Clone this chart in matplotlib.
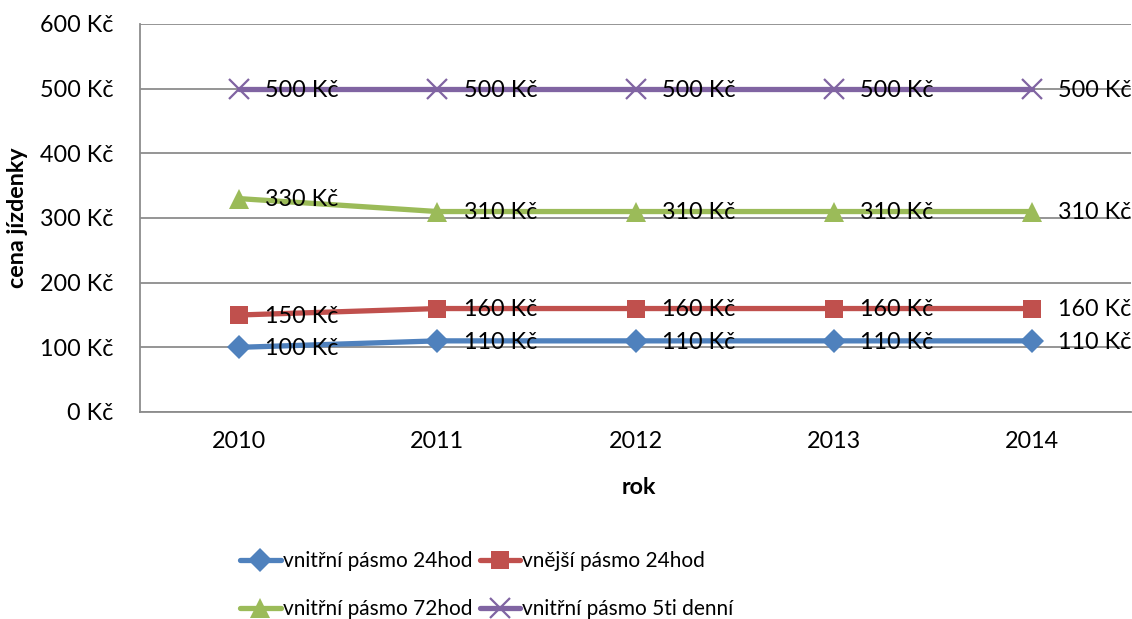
import matplotlib
matplotlib.use("Agg")
import matplotlib.pyplot as plt
from matplotlib.ticker import FuncFormatter

plt.rcParams['font.family'] = ['Lato', 'DejaVu Sans']

years = ['2010', '2011', '2012', '2013', '2014']
series_names = ['vnitřní pásmo 24hod', 'vnější pásmo 24hod',
                'vnitřní pásmo 72hod', 'vnitřní pásmo 5ti denní']
inner_24h = [100, 110, 110, 110, 110]
outer_24h = [150, 160, 160, 160, 160]
inner_72h = [330, 310, 310, 310, 310]
inner_5day = [500, 500, 500, 500, 500]
y_ticks = [0, 100, 200, 300, 400, 500, 600]

series = [inner_24h, outer_24h, inner_72h, inner_5day]
colors = ['#4F81BD', '#C0504D', '#9BBB59', '#8064A2']
markers = ['D', 's', '^', 'x']
msizes = [12, 13, 14, 14]

FS = 16.8
FS_LEG = 15
fig = plt.figure(figsize=(11.32, 6.19), dpi=100)
ax = fig.add_axes([140/1132, 1 - 412/619, (1131-140)/1132, (412-24)/619])

x = list(range(len(years)))
handles = []
for vals, c, m, ms, name in zip(series, colors, markers, msizes, series_names):
    kw = dict(markeredgewidth=1.6) if m == 'x' else dict(markeredgewidth=0)
    h, = ax.plot(x, vals, color=c, lw=3.8, marker=m, markersize=ms,
                 markerfacecolor=c, markeredgecolor=c, label=name, zorder=3,
                 solid_capstyle='round', **kw)
    handles.append(h)
    for xi, v in zip(x, vals):
        ax.annotate(f'{v} Kč', (xi, v), xytext=(19, -1), textcoords='offset points',
                    ha='left', va='center', fontsize=FS, color='black', zorder=5)

ax.set_xlim(-0.5, 4.5)
ax.set_ylim(0, 600)
ax.set_yticks(y_ticks)
ax.yaxis.set_major_formatter(FuncFormatter(lambda v, p: f'{int(v)} Kč'))
ax.set_xticks(x)
ax.set_xticklabels(years)
ax.tick_params(axis='both', length=0, labelsize=FS)
ax.tick_params(axis='y', pad=19)
ax.tick_params(axis='x', pad=14)
ax.grid(axis='y', color='#8C8C8C', lw=1.3, zorder=0)
ax.set_axisbelow(True)
for s in ['top', 'right']:
    ax.spines[s].set_visible(False)
for s in ['left', 'bottom']:
    ax.spines[s].set_color('#8C8C8C')
    ax.spines[s].set_linewidth(1.3)

fig.text(18/1132, 1 - 218/619, 'cena jízdenky', rotation=90, ha='center', va='center',
         fontsize=FS, fontweight='bold')
fig.text(639/1132, 1 - 488/619, 'rok', ha='center', va='center',
         fontsize=FS, fontweight='bold')

# matplotlib fills legend columns first; reorder so rows read like the reference
order = [0, 2, 1, 3]
leg = fig.legend(handles=[handles[i] for i in order],
                 labels=[series_names[i] for i in order], ncol=2, loc='upper left',
                 bbox_to_anchor=(240/1132, 1 - 551/619), frameon=False,
                 fontsize=FS_LEG, handlelength=1.95, handletextpad=0.1,
                 columnspacing=0.35, labelspacing=1.35, borderpad=0,
                 borderaxespad=0, numpoints=1)

fig.savefig('out.png', dpi=100)
